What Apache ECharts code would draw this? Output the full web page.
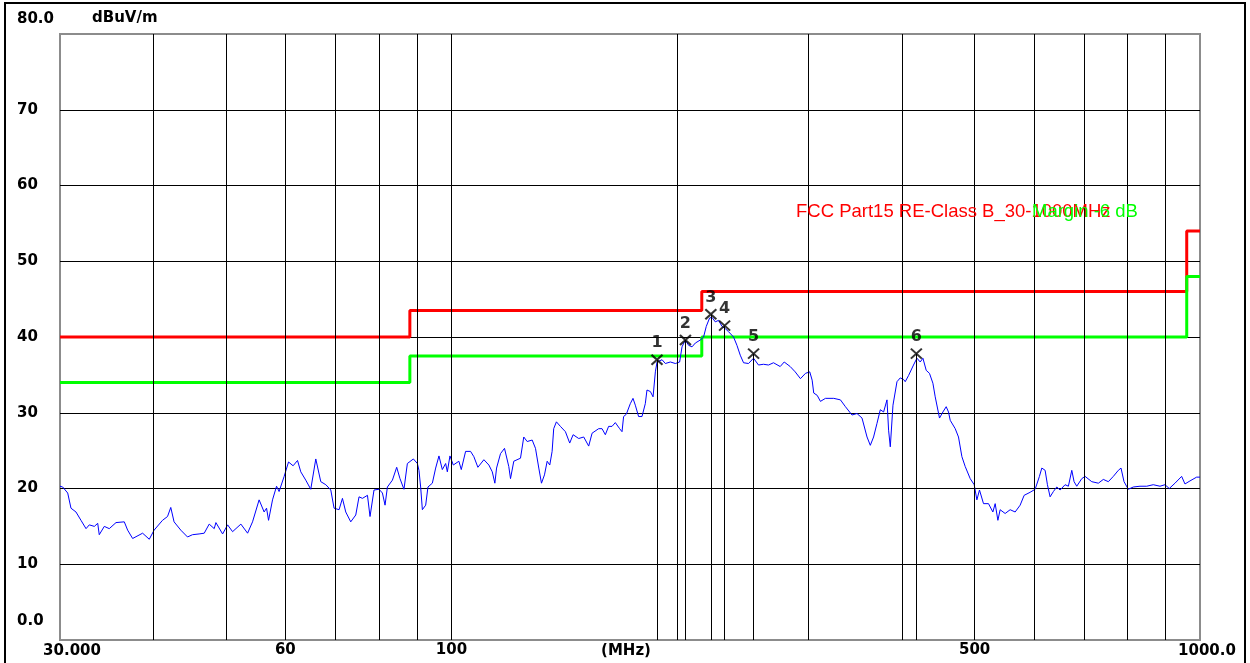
<!DOCTYPE html>
<html><head><meta charset="utf-8">
<script src="https://cdn.jsdelivr.net/npm/echarts@6/dist/echarts.min.js"></script>
<style>html,body{margin:0;padding:0;background:#fff}#c{width:1250px;height:663px}</style>
</head><body><div id="c"></div><script>
const freqMHz=[30.0,30.25,30.72,31.03,31.51,32.00,32.50,32.83,33.34,33.69,33.85,34.38,34.91,35.64,36.56,36.94,37.51,38.68,39.48,40.07,41.12,41.76,42.18,42.61,43.50,44.41,45.09,46.02,46.75,47.47,48.21,48.46,49.47,50.24,51.01,52.33,53.42,54.24,55.35,56.21,56.63,56.98,57.68,58.40,58.86,59.78,60.59,61.45,62.29,62.92,63.89,64.88,65.89,66.91,67.95,69.00,69.70,70.78,71.52,72.25,73.37,74.51,75.26,76.06,77.24,77.85,78.81,80.04,80.88,81.53,82.13,83.40,84.51,85.37,86.42,87.33,88.96,90.06,90.50,90.97,91.45,92.39,93.04,94.30,95.27,96.24,97.24,98.24,98.75,99.55,100.58,102.32,103.08,104.46,106.07,107.15,108.48,110.50,112.21,113.39,114.30,114.90,116.3,117.74,119.30,119.93,121.15,123.67,124.93,126.24,128.20,129.51,130.83,131.92,133.14,134.25,135.33,136.31,136.98,138.12,139.83,142.00,143.89,145.40,147.93,150.22,152.54,154.14,157.30,158.92,160.55,162.18,163.89,165.56,167.76,169.01,169.83,171.25,173.37,174.81,176.06,177.85,179.71,181.55,182.49,184.4,185.93,187.26,188.24,191.15,193.10,196.09,199.13,201.77,203.26,205.35,207.43,209.61,211.75,215.0,217.19,219.0,221.24,222.87,225.15,227.45,229.84,232.18,234.54,238.18,240.67,243.12,245.62,249.40,253.26,257.17,261.15,265.22,269.30,274.92,278.33,283.49,287.88,292.6,297.13,301.09,303.31,304.80,308.02,311.15,315.98,324.14,330.87,336.0,342.87,348.19,353.58,359.08,362.73,366.41,370.26,374.05,377.87,381.83,383.70,385.72,388.92,393.73,397.7,401.76,403.86,407.96,414.28,418.66,422.91,426.45,430.79,435.16,439.74,442.88,448.76,453.46,458.11,461.33,463.8,470.98,475.76,480.77,485.69,493.21,499.33,503.45,507.49,513.80,521.73,528.82,532.58,537.03,540.8,549.18,557.68,566.33,575.09,582.23,593.04,602.24,610.24,614.73,621.0,625.44,630.6,637.03,643.72,650.29,660.36,667.11,674.11,678.9,684.5,695.11,702.24,716.8,731.5,742.8,754.3,766.0,777.9,784.3,791.6,802.1,814.6,831.5,848.8,866.1,884.2,897.9,909.8,925.9,945.1,954.8,969.6,989.7,1000];
const levelDb=[20.3,20.2,19.4,17.4,16.9,15.8,14.7,15.2,15.0,15.4,13.9,15.0,14.7,15.5,15.6,14.5,13.4,14.1,13.3,14.5,15.8,16.3,17.5,15.6,14.5,13.6,13.9,14.0,14.1,15.3,14.7,15.5,14.0,15.2,14.3,15.3,14.1,15.6,18.5,16.9,17.4,15.8,18.5,20.3,19.6,21.6,23.5,23.0,23.7,22.2,21.1,19.9,23.9,20.9,20.5,19.8,17.4,17.2,18.7,16.9,15.6,16.5,18.9,18.7,19.1,16.3,19.8,19.9,19.4,17.8,20.2,21.1,22.8,21.3,19.9,23.3,23.9,23.3,22.4,20.2,17.2,17.8,20.2,20.7,22.7,24.3,22.5,23.3,22.2,24.3,23.1,23.6,22.5,24.9,24.9,24.2,22.8,23.8,23.1,22.2,20.7,22.7,24.6,25.3,22.9,21.3,23.6,24.0,26.8,26.2,26.4,25.3,22.7,20.7,21.8,23.6,23.1,24.9,27.9,28.8,28.2,27.5,26.0,27.1,26.6,26.8,25.6,27.3,27.9,27.9,27.1,28.2,28.2,28.7,27.9,27.5,29.5,29.8,31.2,31.9,31.0,29.5,29.5,31.2,33.0,32.8,32.1,35.4,36.7,37.0,36.5,36.7,36.5,36.7,38.7,39.6,38.9,38.7,39.2,39.6,40.0,41.4,42.5,42.6,42.0,42.2,41.4,41.1,40.7,40.0,38.9,37.6,36.6,36.5,37.2,36.3,36.4,36.3,36.6,36.1,36.7,36.1,35.4,34.5,35.2,35.4,34.3,32.6,32.3,31.5,31.9,31.9,31.7,30.8,29.7,29.9,29.3,26.8,25.7,26.8,28.6,30.4,30.1,31.7,27.7,25.5,31.0,34.1,34.6,34.4,34.1,34.9,36.3,37.2,36.7,37.2,35.6,35.2,33.9,32.1,29.3,30.1,30.8,30.1,29.0,27.9,26.8,24.2,22.9,21.3,20.5,18.5,19.8,18.0,18.0,16.9,18.0,15.8,17.2,16.7,17.2,16.9,17.8,19.1,19.5,19.9,21.6,22.7,22.4,20.5,18.9,19.6,20.2,19.8,20.5,20.3,22.4,20.9,20.3,21.3,21.6,20.9,20.7,21.2,20.9,21.6,22.4,22.7,20.9,19.9,20.2,20.3,20.3,20.5,20.3,20.5,20.0,20.7,21.6,20.6,21.0,21.5,21.5];
const limitFreq=[30,88,216,960,1000];
const limitClassB=[40,43.5,46,54,54];
const limitMargin=[34,37.5,40,48,48];
const markerFreq=[188.2,205.4,222.1,231.7,253.3,417.9];
const markerLevel=[37.0,39.6,43.0,41.5,37.8,37.8];
const markerName=['1','2','3','4','5','6'];
const gridFreq=[40,50,60,70,80,90,100,200,300,400,500,600,700,800,900];
const gridLabel={60:'60',100:'100',500:'500'};
const limitName='FCC Part15 RE-Class B_30-1000MHz';
const marginName='Margin -6 dB';

const zip=(a,b)=>a.map((v,i)=>[v,b[i]]);
const lblFont={fontFamily:'DejaVu Sans',fontWeight:'bold',fontSize:15,color:'#000'};
const chart=echarts.init(document.getElementById('c'),null,{renderer:'canvas'});
chart.setOption({
  animation:false,
  backgroundColor:'#fff',
  grid:{left:60,right:50,top:34,bottom:23,show:true,borderColor:'#8c8c8c',borderWidth:2,backgroundColor:'#fff',
    containLabel:false,outerBoundsMode:'none'},
  xAxis:{type:'log',logBase:10,min:30,max:1000,
    name:'(MHz)',nameLocation:'middle',nameGap:4,nameMoveOverlap:false,
    nameTextStyle:Object.assign({verticalAlign:'top',padding:[0,8,0,0]},lblFont),
    axisLine:{show:false},axisTick:{show:false},splitLine:{show:false},
    axisLabel:Object.assign({showMinLabel:true,showMaxLabel:true,margin:4,
      formatter:v=>{const r=Math.round(v);return r===30?'{l|30.000}':(r===1000?'{r|1000.0}':'');},
      rich:{l:Object.assign({padding:[0,0,0,24]},lblFont),r:Object.assign({padding:[0,0,0,14]},lblFont)}},lblFont)},
  yAxis:{type:'value',min:0,max:80,interval:10,
    name:'dBuV/m',nameLocation:'end',nameGap:8,nameTextStyle:Object.assign({align:'left',padding:[0,0,0,32]},lblFont),
    axisLine:{show:false},axisTick:{show:false},
    splitLine:{show:true,showMinLine:false,showMaxLine:false,lineStyle:{color:'#000',width:1}},
    axisLabel:Object.assign({align:'left',margin:43,
      formatter:v=>v===80?'{t|80.0}':(v===0?'{b|0.0}':String(v)),
      rich:{t:Object.assign({padding:[0,0,30,0]},lblFont),b:Object.assign({padding:[0,0,37,0]},lblFont)}},lblFont)},
  graphic:[
    {type:'rect',shape:{x:5,y:3,width:1240,height:680},style:{fill:'none',stroke:'#000',lineWidth:2},silent:true,z:100},
    {type:'text',left:796,top:202,style:{text:limitName,fill:'#ff0000',font:'18.5px "Liberation Sans"'},z:100},
    {type:'text',left:1032,top:202,style:{text:marginName,fill:'#00ff00',font:'18.5px "Liberation Sans"'},z:101}
  ],
  series:[
    {type:'line',name:'grid',data:[[30,null]],showSymbol:false,silent:true,z:1,lineStyle:{width:0},
      markLine:{silent:true,symbol:['none','none'],animation:false,
        lineStyle:{color:'#000',width:1,type:'solid'},
        label:Object.assign({show:true,position:'start',distance:3,formatter:p=>gridLabel[p.value]||''},lblFont),
        emphasis:{disabled:true},
        data:gridFreq.map(f=>({xAxis:f}))}},
    {type:'line',name:limitName,step:'end',data:zip(limitFreq,limitClassB),showSymbol:false,z:3,
      lineStyle:{color:'#ff0000',width:3},itemStyle:{color:'#ff0000'}},
    {type:'line',name:marginName,step:'end',data:zip(limitFreq,limitMargin),showSymbol:false,z:3,
      lineStyle:{color:'#00ff00',width:3},itemStyle:{color:'#00ff00'}},
    {type:'line',name:'Level',data:zip(freqMHz,levelDb),showSymbol:false,z:4,
      lineStyle:{color:'#0000ff',width:1},itemStyle:{color:'#0000ff'}},
    {type:'scatter',name:'Markers',data:zip(markerFreq,markerLevel),z:6,
      symbol:'path://M0,0L10,10M10,0L0,10',symbolSize:[11,10],
      itemStyle:{color:'none',borderColor:'#000',borderWidth:2},
      label:Object.assign({show:true,position:'top',distance:1,formatter:p=>markerName[p.dataIndex]},lblFont,{fontSize:16}),
      markLine:{silent:true,symbol:['none','none'],animation:false,lineStyle:{color:'#000',width:1,type:'solid'},
        label:{show:false},emphasis:{disabled:true},
        data:markerFreq.map((f,i)=>[{coord:[f,0]},{coord:[f,markerLevel[i]]}])}}
  ]
});
</script></body></html>
